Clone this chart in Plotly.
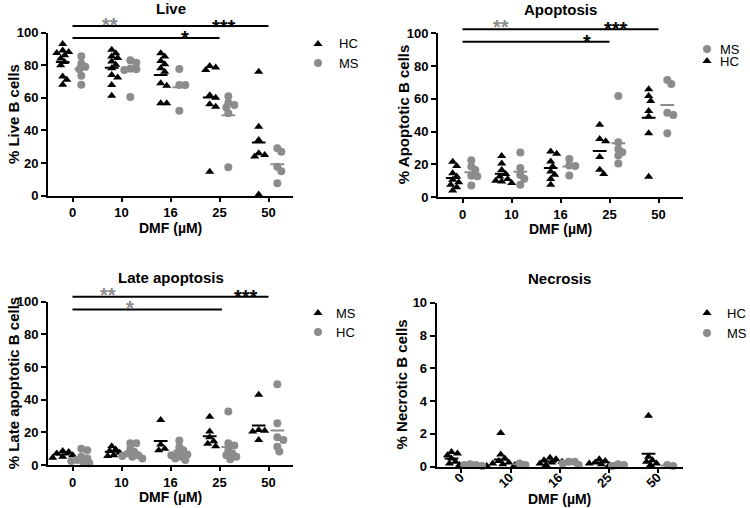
import numpy as np
import plotly.graph_objects as go

# ---------------- data ----------------
categories = ["0", "10", "16", "25", "50"]

live_hc = [[93, 89, 88, 87.5, 86, 84, 82, 80, 73, 71, 68],
           [89.4, 87.3, 85.3, 84.3, 82.2, 80.2, 78.1, 74, 72.4, 67.9, 61.3],
           [87.3, 85.3, 82.6, 80.6, 78.1, 76, 68.9, 67.3, 56.6, 56.6],
           [79.5, 78.5, 77, 61.5, 60, 56, 54.5, 14.7],
           [76, 42.3, 34.2, 26, 25, 24, 0.8]]
live_ms = [[85.5, 81, 79, 77.5, 73.5, 68],
           [83, 81.5, 78, 77.5, 77, 60.5],
           [77.7, 67.9, 67.9, 52.1],
           [61, 57, 55.5, 54, 50.5, 17.5],
           [29, 27, 17.8, 15, 7.6]]

apo_hc = [[21.5, 19, 14.5, 12.5, 10.5, 9, 7.5, 6, 4],
          [25, 20.5, 16.5, 14, 12.5, 11, 10, 9.5, 8.5],
          [27.8, 26.4, 21.7, 18.7, 15.6, 13.6, 11, 7.5],
          [44.2, 35.5, 34, 24.5, 16.7, 14],
          [65.8, 61.7, 58.7, 52.5, 49.1, 38.9, 12.4]]
apo_ms = [[22.4, 18.7, 16.5, 13, 12.6, 7.1],
          [27.2, 17.7, 13.5, 11.2, 7.5],
          [23.2, 19.3, 18.9, 13.2],
          [61.7, 33.4, 29.3, 27.3, 25.3, 20.4],
          [71.5, 69, 51.5, 50.1, 38.9]]

# Late apoptosis: legend in the original labels triangles "MS" and circles "HC"
late_tri = [[8.5, 8, 7, 6, 5, 4.5],
            [11.5, 9.5, 8.5, 7.5, 6, 5.5],
            [27.5, 12.5, 10, 9],
            [29.5, 20.5, 17, 14.5, 13, 11.5],
            [43, 21.5, 21, 20.5, 15.3]]
late_circ = [[10, 9, 5, 4, 3, 2.5, 2, 1],
             [13.3, 13.3, 10, 8, 7, 6, 5.5, 5, 4],
             [15, 11, 9, 7.5, 6.5, 6, 5, 4, 3],
             [32.7, 13.3, 12, 9, 7, 6, 5, 3.5],
             [49.4, 25.5, 17, 15.3, 11.2, 8.2]]

nec_hc = [[0.9, 0.8, 0.7, 0.5, 0.3, 0.2, 0.1],
          [2.05, 0.75, 0.5, 0.35, 0.25, 0.2, 0.15, 0.1, 0.05, 0.05],
          [0.55, 0.45, 0.4, 0.3, 0.25, 0.2, 0.1],
          [0.45, 0.35, 0.25, 0.2, 0.15, 0.1],
          [3.1, 0.6, 0.4, 0.3, 0.2, 0.1]]
nec_ms = [[0.15, 0.1, 0.1, 0.05],
          [0.2, 0.1],
          [0.3, 0.3, 0.2, 0.1],
          [0.15, 0.1, 0.05],
          [0.1, 0.05]]

# ---------------- styling ----------------
FW, FH = 750, 508
FONT = "Liberation Sans, Arial, sans-serif"
BLACK = "#000000"
GREY = "#8c8c8c"
TRI = dict(symbol="triangle-up", color=BLACK, size=8)
CIRC = dict(symbol="circle", color=GREY, size=8)
HC_OFF, MS_OFF = -0.2, 0.18


def fx(px):
    return px / FW


def fy(py):
    return 1 - py / FH


panels = [
    dict(ax="", title="Live", ytitle="% Live B cells", ymax=100, dtick=20,
         px=(48, 293), py=(32.5, 195.7), leg=(318, 44, 19, 19),
         series=[("HC", live_hc, TRI, HC_OFF), ("MS", live_ms, CIRC, MS_OFF)],
         bars=[(0, 4, 104.0), (0, 3, 96.6)],
         stars=[(0.77, 107.6, "**", GREY), (3.1, 106.4, "***", BLACK), (2.3, 99.6, "*", BLACK)],
         tickangle=0),
    dict(ax="2", title="Apoptosis", ytitle="% Apoptotic B cells", ymax=100, dtick=20,
         px=(438, 683), py=(33.3, 197), leg=(707, 49, 11, 12),
         series=[("MS", apo_ms, CIRC, MS_OFF), ("HC", apo_hc, TRI, HC_OFF)],
         bars=[(0, 4, 102.4), (0, 3, 94.9)],
         stars=[(0.78, 106.6, "**", GREY), (3.14, 105.7, "***", BLACK), (2.54, 97.9, "*", BLACK)],
         tickangle=0),
    dict(ax="3", title="Late apoptosis", ytitle="% Late apoptotic B cells", ymax=100, dtick=20,
         px=(48, 293), py=(301.7, 465), leg=(318, 313, 16, 19),
         series=[("MS", late_tri, TRI, HC_OFF), ("HC", late_circ, CIRC, MS_OFF)],
         bars=[(0, 4, 103.1), (0, 3.05, 95.3)],
         stars=[(0.72, 107.2, "**", GREY), (3.55, 106.1, "***", BLACK), (1.17, 99.0, "*", GREY)],
         tickangle=0),
    dict(ax="4", title="Necrosis", ytitle="% Necrotic B cells", ymax=10, dtick=2,
         px=(436.7, 683), py=(302.7, 466.7), leg=(707, 313, 18, 20),
         series=[("HC", nec_hc, TRI, HC_OFF), ("MS", nec_ms, CIRC, MS_OFF)],
         bars=[], stars=[], tickangle=-45),
]


def swarm(values, ppu_y, ppu_x, diam=5.0, step=2.0):
    vals = np.asarray(values, dtype=float)
    order = np.argsort(-vals, kind="stable")
    placed, offs = [], np.zeros(len(vals))
    cands = [0.0]
    for j in range(1, 40):
        cands += [j * step, -j * step]
    for i in order:
        ypx = vals[i] * ppu_y
        for c in cands:
            if all((c - px) ** 2 + (ypx - py) ** 2 >= diam ** 2 for px, py in placed):
                break
        placed.append((c, ypx))
        offs[i] = c / ppu_x
    return offs


fig = go.Figure()
layout = dict(width=FW, height=FH, margin=dict(l=0, r=0, t=0, b=0, autoexpand=False),
              paper_bgcolor="white", plot_bgcolor="rgba(0,0,0,0)", showlegend=False,
              font=dict(family=FONT, color=BLACK))
annotations, shapes = [], []

# overlay axis in pixel units, used only to place the legend keys
layout["xaxis5"] = dict(domain=[0, 1], range=[0, FW], visible=False,
                        fixedrange=True, anchor="y5")
layout["yaxis5"] = dict(domain=[0, 1], range=[FH, 0], visible=False,
                        fixedrange=True, anchor="x5")

for p in panels:
    ax = p["ax"]
    xa, ya = "x" + ax, "y" + ax
    x0, x1 = p["px"]
    ytop, ybot = p["py"]
    ppu_x = (x1 - x0) / 5.0
    ppu_y = (ybot - ytop) / p["ymax"]
    ncat = len(categories)

    for name, data, mk, off in p["series"]:
        xs, ys = [], []
        for ci, vals in enumerate(data):
            o = swarm(vals, ppu_y, ppu_x)
            xs += list(ci + off + o)
            ys += list(vals)
        fig.add_trace(go.Scatter(x=xs, y=ys, mode="markers", name=name, marker=mk,
                                 xaxis=xa, yaxis=ya, cliponaxis=False, hoverinfo="skip"))
    for name, data, mk, off in p["series"]:
        lx, ly = [], []
        for ci, vals in enumerate(data):
            m = float(np.mean(vals))
            lx += [ci + off - 0.14, ci + off + 0.14, None]
            ly += [m, m, None]
        fig.add_trace(go.Scatter(x=lx, y=ly, mode="lines", showlegend=False,
                                 line=dict(color=mk["color"], width=2),
                                 xaxis=xa, yaxis=ya, hoverinfo="skip"))

    xdom = [fx(x0), fx(x1)]
    ydom = [fy(ybot), fy(ytop)]
    xax = dict(domain=xdom, anchor=ya, range=[-0.5, ncat - 0.5], automargin=False,
               tickmode="array", tickvals=list(range(ncat)), ticktext=categories,
               ticks="outside", ticklen=4, tickwidth=1.5, tickcolor=BLACK,
               showline=True, linewidth=2, linecolor=BLACK,
               showgrid=False, zeroline=False, tickangle=p["tickangle"],
               tickfont=dict(family=FONT, size=13, color=BLACK, weight="bold"))
    if p["tickangle"] != 0:
        xax["ticklabelstandoff"] = -8
        xax["ticklabelshift"] = -1
    layout["xaxis" + ax] = xax
    layout["yaxis" + ax] = dict(domain=ydom, anchor=xa, range=[0, p["ymax"]], automargin=False,
                                tickmode="linear", tick0=0, dtick=p["dtick"],
                                ticks="outside", ticklen=5, tickwidth=1.5, tickcolor=BLACK,
                                showline=True, linewidth=2, linecolor=BLACK,
                                showgrid=False, zeroline=False,
                                tickfont=dict(family=FONT, size=13, color=BLACK, weight="bold"))

    cxp = (x0 + x1) / 2
    annotations.append(dict(text="<b>%s</b>" % p["title"], xref="paper", yref="paper",
                            x=fx(cxp), y=fy(ytop - 24), xanchor="center", yanchor="middle",
                            showarrow=False, font=dict(size=15, family=FONT)))
    annotations.append(dict(text="<b>%s</b>" % p["ytitle"], xref="paper", yref="paper",
                            x=fx(x0 - 35), y=fy((ytop + ybot) / 2), textangle=-90,
                            xanchor="center", yanchor="middle", showarrow=False,
                            font=dict(size=15, family=FONT)))
    annotations.append(dict(text="<b>DMF (µM)</b>", xref="paper", yref="paper",
                            x=fx(cxp), y=fy(ybot + 32), xanchor="center", yanchor="middle",
                            showarrow=False, font=dict(size=14, family=FONT)))
    for a, b, v in p["bars"]:
        shapes.append(dict(type="line", xref=xa + " domain", yref=ya + " domain",
                           x0=(a + 0.5) / ncat, x1=(b + 0.5) / ncat,
                           y0=v / p["ymax"], y1=v / p["ymax"],
                           line=dict(color=BLACK, width=2)))
    for sx, sy, txt, col in p["stars"]:
        annotations.append(dict(text="<b>%s</b>" % txt, xref=xa + " domain", yref=ya + " domain",
                                x=(sx + 0.5) / ncat, y=sy / p["ymax"],
                                xanchor="center", yanchor="middle", yshift=-5,
                                showarrow=False, font=dict(size=20, color=col, family=FONT)))
    # legend keys (marker + label)
    lx, ly, gap, dy = p["leg"]
    for k, (name, data, mk, off) in enumerate(p["series"]):
        yy = ly + k * dy
        fig.add_trace(go.Scatter(x=[lx], y=[yy], mode="markers", marker=mk, xaxis="x5", yaxis="y5",
                                 cliponaxis=False, hoverinfo="skip", showlegend=False))
        annotations.append(dict(text=name, xref="paper", yref="paper", x=fx(lx + gap),
                                y=fy(yy), xanchor="left", yanchor="middle", showarrow=False,
                                font=dict(size=13, family=FONT)))

layout["annotations"] = annotations
layout["shapes"] = shapes
fig.update_layout(**layout)
# remove the browser's default page margin so the 750x508 figure fills the window
fig.write_html("out.html", config={"displayModeBar": False},
               post_script="document.body.style.margin='0px';")
